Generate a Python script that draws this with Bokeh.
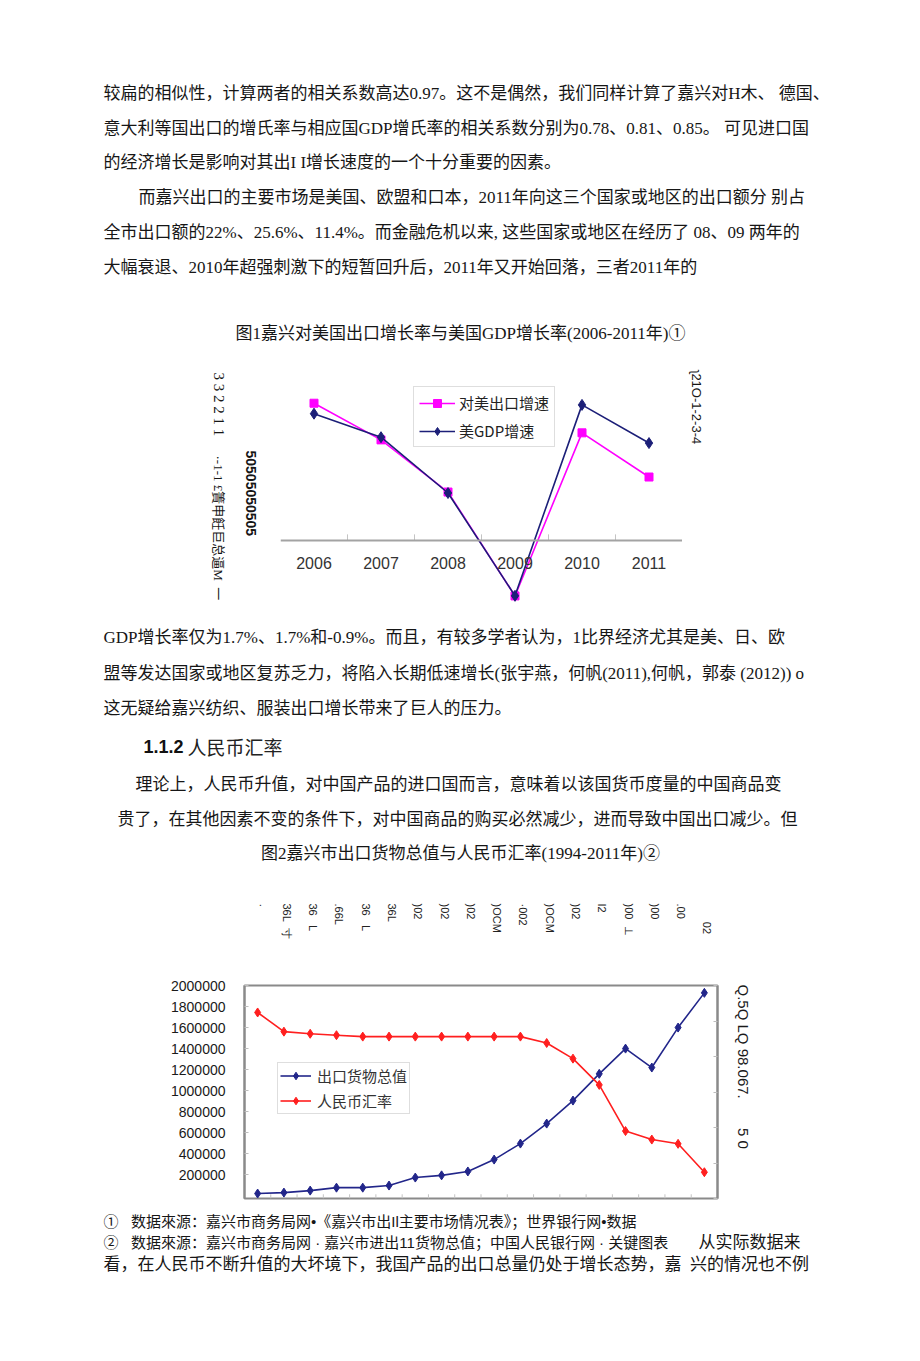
import math
from bokeh.plotting import figure
from bokeh.layouts import column, row
from bokeh.models import (Range1d, FactorRange, CategoricalAxis, LinearAxis, FixedTicker,
                          NumeralTickFormatter, Legend, LegendItem)
from bokeh.core.properties import value
from bokeh.embed import file_html
from bokeh.resources import INLINE

# ---------------- data ----------------
years1 = ["2006", "2007", "2008", "2009", "2010", "2011"]
export_us_growth = [29.1, 21.3, 10.2, -11.9, 22.8, 13.4]      # 对美出口增速 (%)
us_gdp_growth = [2.7, 1.9, 0.0, -3.5, 3.0, 1.7]              # 美GDP增速 (%)
growth_axis = (-15, 35)     # left value axis of chart 1 (hidden)
gdp_axis = (-4, 4)          # right value axis of chart 1 (hidden)

years2 = ["1994", "1995", "1996", "1997", "1998", "1999", "2000", "2001", "2002",
          "2003", "2004", "2005", "2006", "2007", "2008", "2009", "2010", "2011"]
export_total = [22000, 31000, 50000, 78000, 78000, 98000, 174000, 195000, 232000,
                345000, 497000, 687000, 906000, 1160000, 1400000, 1220000, 1600000, 1930000]
rmb_rate = [8.62, 8.35, 8.32, 8.30, 8.28, 8.28, 8.28, 8.28, 8.28,
            8.28, 8.28, 8.19, 7.97, 7.60, 6.95, 6.83, 6.77, 6.37]
y2_ticks = [200000, 400000, 600000, 800000, 1000000, 1200000, 1400000, 1600000, 1800000, 2000000]
rate_ticks = [6.0, 6.5, 7.0, 7.5, 8.0, 8.5, 9.0]
top_labels2 = ["·", "36L\u00a0\u00a0寸", "36\u00a0\u00a0\u00a0L", ".66L", "36\u00a0\u00a0\u00a0L", "36L",
               ")02", ")02", ")02", ")OCM", "·002", ")OCM", ")02", "I2", ")00\u00a0\u00a0⊥",
               ")00", ".00", "\u00a0\u00a0\u00a0\u00a0\u00a0\u00a002"]

SERIF = "Liberation Serif, Noto Sans CJK SC"
CJK = "Noto Sans CJK SC"
SANS = "Liberation Sans, Noto Sans CJK SC"
INK = "#161616"

# page geometry of chart 1 block (pixels)
ROW_TOP, ROW_BOT = 345, 615
PLOT_TOP, PLOT_BOT = 375, 610


def padded(lo, hi):
    """value range that puts lo..hi at PLOT_BOT..PLOT_TOP inside a ROW_TOP..ROW_BOT frame"""
    k = (hi - lo) / (PLOT_BOT - PLOT_TOP)
    return Range1d(lo - (ROW_BOT - PLOT_BOT) * k, hi + (PLOT_TOP - ROW_TOP) * k)


def blank(w, h, xr, yr, **kw):
    f = figure(width=w, height=h, x_range=xr, y_range=yr, output_backend="svg",
               toolbar_location=None, x_axis_location=None, y_axis_location=None,
               min_border=0, **kw)
    f.outline_line_color = None
    f.background_fill_color = "white"
    f.border_fill_color = "white"
    f.xgrid.visible = False
    f.ygrid.visible = False
    return f


def put(f, x, y, s, size="17px", font=SERIF, align="left", angle=0.0, style="normal", color=INK):
    f.text(x=[x], y=[y], text=[s], text_font=value(font), text_font_size=size,
           text_align=align, text_baseline="middle", angle=angle,
           text_font_style=style, text_color=color)


# ---------------- top text ----------------
top = blank(912, ROW_TOP, Range1d(0, 912), Range1d(ROW_TOP, 0))
top_lines = [
    (103, 93, "较扁的相似性，计算两者的相关系数高达0.97。这不是偶然，我们同样计算了嘉兴对H木、 德国、"),
    (103, 128, "意大利等国出口的增氏率与相应国GDP增氏率的相关系数分别为0.78、0.81、0.85。 可见进口国"),
    (103, 162, "的经济增长是影响对其出I I增长速度的一个十分重要的因素。"),
    (138, 197, "而嘉兴出口的主要市场是美国、欧盟和口本，2011年向这三个国家或地区的出口额分 别占"),
    (103, 232, "全市出口额的22%、25.6%、11.4%。而金融危机以来, 这些国家或地区在经历了 08、09 两年的"),
    (103, 267, "大幅衰退、2010年超强刺激下的短暂回升后，2011年又开始回落，三者2011年的"),
]
for x, y, s in top_lines:
    put(top, x, y, s)
put(top, 460, 333, "图1嘉兴对美国出口增长率与美国GDP增长率(2006-2011年)①", align="center")

# ---------------- chart 1 ----------------
H1 = ROW_BOT - ROW_TOP
left1 = blank(280, H1, Range1d(0, 280), Range1d(ROW_BOT, ROW_TOP))
put(left1, 218, 372, "3 3 2 2 1 1", size="15px", angle=-math.pi / 2)
put(left1, 218, 455, "·-1-1 £簀申飪巨总逼M\u00a0\u00a0一", size="13px", angle=-math.pi / 2)
put(left1, 250, 450, "50505050505", size="14px", font="Liberation Sans", style="bold",
    angle=-math.pi / 2)

right1 = blank(230, H1, Range1d(682, 912), Range1d(ROW_BOT, ROW_TOP))
put(right1, 696, 370, "ʅ21O-1-2-3-4", size="13px", font="Liberation Sans", angle=-math.pi / 2)

p1 = figure(width=402, height=H1, x_range=FactorRange(factors=years1), y_range=padded(*growth_axis),
            output_backend="svg", toolbar_location=None, x_axis_location=None, y_axis_location=None,
            min_border=0)
p1.extra_y_ranges = {"gdp": padded(*gdp_axis)}
p1.outline_line_color = None
p1.xgrid.visible = False
p1.ygrid.visible = False

ax1 = CategoricalAxis(fixed_location=0, axis_line_color="#a3a3a3", axis_line_width=2,
                      major_tick_line_color=None, major_tick_out=0, major_tick_in=0,
                      major_label_standoff=17, major_label_text_font="Liberation Sans",
                      major_label_text_font_size="16px", major_label_text_color="#333333")
p1.add_layout(ax1, "below")
p1.segment(x0=[(y, 0.5) for y in years1[:-1]], y0=0, x1=[(y, 0.5) for y in years1[:-1]], y1=1.2,
           line_color="#c4c4c4", line_width=1)

PINK = "#ff00ff"
NAVY = "#1c1f78"
l1 = p1.line(years1, export_us_growth, line_color=PINK, line_width=1.6)
s1 = p1.scatter(years1, export_us_growth, marker="square", size=8, color=PINK)
l2 = p1.line(years1, us_gdp_growth, y_range_name="gdp", line_color=NAVY, line_width=1.6)
s2 = p1.scatter(years1, us_gdp_growth, y_range_name="gdp", marker="diamond", size=11, color=NAVY)

leg1 = Legend(items=[LegendItem(label="对美出口增速", renderers=[l1, s1]),
                     LegendItem(label="美GDP增速", renderers=[l2, s2])],
              location=(133, 168), orientation="vertical",
              border_line_color="#bdbdbd", border_line_width=1.5,
              background_fill_color="white", background_fill_alpha=1,
              label_text_font=CJK, label_text_font_size="15px", label_text_color="#222222",
              glyph_width=36, glyph_height=20, label_height=20, spacing=7, padding=5,
              margin=0, label_standoff=4)
p1.add_layout(leg1)

# ---------------- middle text ----------------
mid = blank(912, 275, Range1d(0, 912), Range1d(890, 615))
mid_lines = [
    (103, 637, "GDP增长率仅为1.7%、1.7%和-0.9%。而且，有较多学者认为，1比界经济尤其是美、日、欧"),
    (103, 673, "盟等发达国家或地区复苏乏力，将陷入长期低速增长(张宇燕，何帆(2011),何帆，郭泰 (2012)) o"),
    (103, 708, "这无疑给嘉兴纺织、服装出口增长带来了巨人的压力。"),
    (135, 784, "理论上，人民币升值，对中国产品的进口国而言，意味着以该国货币度量的中国商品变"),
    (117, 819, "贵了，在其他因素不变的条件下，对中国商品的购买必然减少，进而导致中国出口减少。但"),
]
for x, y, s in mid_lines:
    put(mid, x, y, s)
put(mid, 143, 746, "1.1.2", size="18px", font="Liberation Sans", style="bold", color="#111111")
put(mid, 187, 746, "人民币汇率", size="19px", font=CJK, color="#222222")
put(mid, 460, 853, "图2嘉兴市出口货物总值与人民币汇率(1994-2011年)②", align="center")

# ---------------- chart 2 ----------------
p2 = figure(width=727, height=258, x_range=FactorRange(factors=years2), y_range=Range1d(-25000, 2000000),
            output_backend="svg", toolbar_location=None, x_axis_location=None, y_axis_location=None,
            min_border_left=244, min_border_right=10, min_border_top=35, min_border_bottom=10)
p2.extra_y_ranges = {"rate": Range1d(6.0, 9.0)}
p2.outline_line_color = "#8a8a8a"
p2.outline_line_width = 2
p2.xgrid.visible = False
p2.ygrid.visible = False

axl = LinearAxis(ticker=FixedTicker(ticks=y2_ticks), formatter=NumeralTickFormatter(format="0"),
                 axis_line_color="#8a8a8a", axis_line_width=2,
                 major_tick_in=4, major_tick_out=0, major_tick_line_color="#bdbdbd",
                 minor_tick_line_color=None, major_label_standoff=19,
                 major_label_text_font="Liberation Sans", major_label_text_font_size="14px",
                 major_label_text_color="#1a1a1a")
p2.add_layout(axl, "left")
axr = LinearAxis(y_range_name="rate", ticker=FixedTicker(ticks=rate_ticks),
                 axis_line_color="#8a8a8a", axis_line_width=2,
                 major_tick_in=4, major_tick_out=0, major_tick_line_color="#bdbdbd",
                 minor_tick_line_color=None, major_label_standoff=0,
                 major_label_overrides={t: "" for t in rate_ticks})
p2.add_layout(axr, "right")
p2.segment(x0=[(y, 0.5) for y in years2[:-1]], y0=-25000, x1=[(y, 0.5) for y in years2[:-1]],
           y1=15000, line_color="#c4c4c4", line_width=1)

BLUE = "#22268a"
RED = "#ff1f1f"
l3 = p2.line(years2, export_total, line_color=BLUE, line_width=1.6)
s3 = p2.scatter(years2, export_total, marker="diamond", size=9, color=BLUE)
l4 = p2.line(years2, rmb_rate, y_range_name="rate", line_color=RED, line_width=1.6)
s4 = p2.scatter(years2, rmb_rate, y_range_name="rate", marker="diamond", size=9, color=RED)

leg2 = Legend(items=[LegendItem(label="出口货物总值", renderers=[l3, s3]),
                     LegendItem(label="人民币汇率", renderers=[l4, s4])],
              location=(33, 84), orientation="vertical",
              border_line_color="#bdbdbd", border_line_width=1.5,
              background_fill_color="white", background_fill_alpha=1,
              label_text_font=CJK, label_text_font_size="15px", label_text_color="#333333",
              glyph_width=31, glyph_height=19, label_height=19, spacing=4, padding=2,
              margin=0, label_standoff=6)
p2.add_layout(leg2)

lab2 = blank(727, 60, p2.x_range, Range1d(950, 890), min_border_left=244, min_border_right=10)
lab2.text(x=years2, y=[903] * len(years2), text=top_labels2, text_font=value("Liberation Sans"),
          text_font_size="11px", text_align="left", text_baseline="middle",
          angle=-math.pi / 2, x_offset=3, text_color="#222222")

right2 = blank(185, 318, Range1d(727, 912), Range1d(1208, 890))
put(right2, 743, 984, "Q.5Q LQ 98.067.\u00a0\u00a0\u00a0\u00a0\u00a0\u00a0\u00a05 0", size="15px",
    font="Liberation Sans", angle=-math.pi / 2, color="#1a1a1a")

# ---------------- footer ----------------
foot = blank(912, 82, Range1d(0, 912), Range1d(1290, 1208))
put(foot, 103, 1221, "①\u00a0\u00a0 数据來源：嘉兴市商务局网•《嘉兴市出Il主要市场情况表》；世界银行网•数据",
    size="15px", font=SANS)
put(foot, 103, 1242, "②\u00a0\u00a0 数据來源：嘉兴市商务局网 · 嘉兴市进出11货物总值；中国人民银行网 · 关键图表",
    size="15px", font=SANS)
put(foot, 800, 1242, "从实际数据来", align="right")
put(foot, 103, 1264, "看，在人民币不断升值的大坏境下，我国产品的出口总量仍处于增长态势，嘉\u00a0 兴的情况也不例")

layout = column(top, row(left1, p1, right1), mid, row(column(lab2, p2), right2), foot)

open("out.html", "w").write(file_html(layout, INLINE, title="嘉兴出口"))
